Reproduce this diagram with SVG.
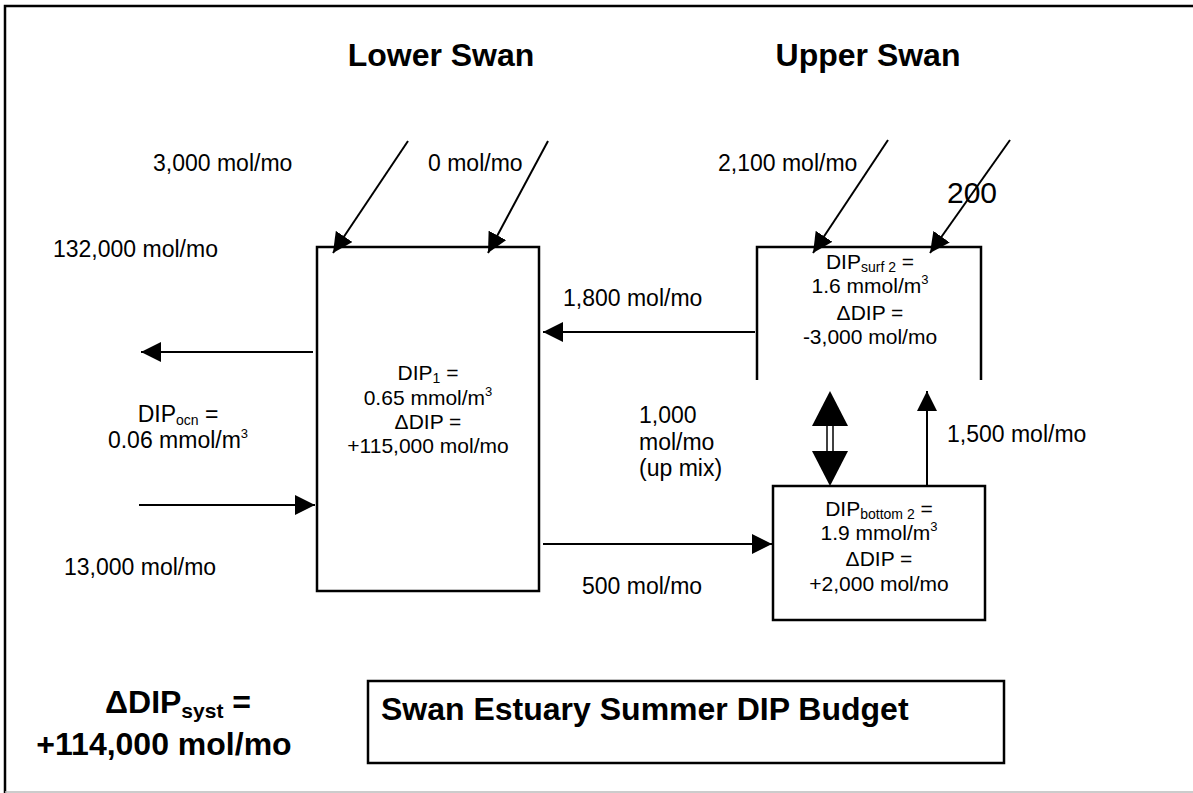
<svg xmlns="http://www.w3.org/2000/svg" width="1193" height="793" viewBox="0 0 1193 793">
<style>
text{font-family:"Liberation Sans",Arial,sans-serif;fill:#000}
.lbl{font-size:23px}
.bt{font-size:21px;text-anchor:middle}
.hd{font-size:32px;font-weight:bold}
.sub{font-size:14px}
.sup{font-size:13px}
.ln{stroke:#000;stroke-width:2;fill:none}
.bx{fill:#fff;stroke:#000;stroke-width:2.5}
</style>
<defs>
<marker id="ah" markerUnits="userSpaceOnUse" markerWidth="20" markerHeight="20" refX="20" refY="10" orient="auto">
<path d="M0,0 L20,10 L0,20 Z" fill="#000"/>
</marker>
</defs>
<rect width="1193" height="793" fill="#fff"/>
<path d="M5,793 V6 H1193" fill="none" stroke="#000" stroke-width="2.5"/>
<line x1="5" y1="792" x2="1193" y2="792" stroke="#bbb" stroke-width="1.5"/>

<text class="hd" x="441" y="66" text-anchor="middle">Lower Swan</text>
<text class="hd" x="868" y="66" text-anchor="middle">Upper Swan</text>

<g id="lower-box">
<rect class="bx" x="317" y="247" width="222" height="344"/>
<text class="bt" x="428" y="380">DIP<tspan class="sub" dy="3">1</tspan><tspan dy="-3"> =</tspan></text>
<text class="bt" x="428" y="405">0.65 mmol/m<tspan class="sup" dy="-9">3</tspan></text>
<text class="bt" x="428" y="429">ΔDIP =</text>
<text class="bt" x="428" y="453">+115,000 mol/mo</text>
</g>

<g id="upper-surface-box">
<path d="M757,380 V247 H981 V380" fill="none" stroke="#000" stroke-width="2.5"/>
<text class="bt" x="870" y="269">DIP<tspan class="sub" dy="3">surf 2</tspan><tspan dy="-3"> =</tspan></text>
<text class="bt" x="870" y="293">1.6 mmol/m<tspan class="sup" dy="-9">3</tspan></text>
<text class="bt" x="870" y="320">ΔDIP =</text>
<text class="bt" x="870" y="344">-3,000 mol/mo</text>
</g>

<g id="upper-bottom-box">
<rect class="bx" x="773" y="486" width="212" height="134"/>
<text class="bt" x="879" y="516">DIP<tspan class="sub" dy="3">bottom 2</tspan><tspan dy="-3"> =</tspan></text>
<text class="bt" x="879" y="540">1.9 mmol/m<tspan class="sup" dy="-9">3</tspan></text>
<text class="bt" x="879" y="566">ΔDIP =</text>
<text class="bt" x="879" y="591">+2,000 mol/mo</text>
</g>

<g id="title-box">
<rect class="bx" x="368" y="681" width="636" height="82" stroke-width="2"/>
<text class="hd" x="381" y="720">Swan Estuary Summer DIP Budget</text>
</g>

<g id="system-total">
<text class="hd" x="178" y="713" text-anchor="middle">ΔDIP<tspan font-size="21" dy="5">syst</tspan><tspan dy="-5"> =</tspan></text>
<text class="hd" x="164" y="755" text-anchor="middle">+114,000 mol/mo</text>
</g>

<g id="connectors">
<line class="ln" x1="408" y1="141" x2="333" y2="253" marker-end="url(#ah)"/>
<line class="ln" x1="548" y1="141" x2="488" y2="253" marker-end="url(#ah)"/>
<line class="ln" x1="888" y1="140" x2="813" y2="253" marker-end="url(#ah)"/>
<line class="ln" x1="1010" y1="140" x2="930" y2="253" marker-end="url(#ah)"/>
<line class="ln" x1="313" y1="352" x2="141" y2="352" marker-end="url(#ah)"/>
<line class="ln" x1="139" y1="505" x2="315" y2="505" marker-end="url(#ah)"/>
<line class="ln" x1="755" y1="332" x2="543" y2="332" marker-end="url(#ah)"/>
<line class="ln" x1="543" y1="544" x2="772" y2="544" marker-end="url(#ah)"/>
<line class="ln" x1="927" y1="486" x2="927" y2="391" marker-end="url(#ah)"/>
<polygon points="830,391 848,426 812,426" fill="#000"/>
<line x1="827" y1="425" x2="827" y2="452" stroke="#000" stroke-width="1.5"/>
<line x1="833" y1="425" x2="833" y2="452" stroke="#000" stroke-width="1.5"/>
<polygon points="812,451 848,451 830,486" fill="#000"/>
</g>

<g id="labels">
<text class="lbl" x="153" y="171">3,000 mol/mo</text>
<text class="lbl" x="428" y="171">0 mol/mo</text>
<text class="lbl" x="718" y="171">2,100 mol/mo</text>
<text x="947" y="203" font-family="'Liberation Serif','Times New Roman',serif" font-size="30">200</text>
<text class="lbl" x="53" y="257">132,000 mol/mo</text>
<text class="lbl" x="178" y="422" text-anchor="middle">DIP<tspan class="sub" dy="3">ocn</tspan><tspan dy="-3"> =</tspan></text>
<text class="lbl" x="178" y="448" text-anchor="middle">0.06 mmol/m<tspan class="sup" dy="-10">3</tspan></text>
<text class="lbl" x="64" y="575">13,000 mol/mo</text>
<text class="lbl" x="563" y="306">1,800 mol/mo</text>
<text class="lbl" x="639" y="423">1,000</text>
<text class="lbl" x="639" y="450">mol/mo</text>
<text class="lbl" x="639" y="476">(up mix)</text>
<text class="lbl" x="582" y="594">500 mol/mo</text>
<text class="lbl" x="947" y="442">1,500 mol/mo</text>
</g>
</svg>
